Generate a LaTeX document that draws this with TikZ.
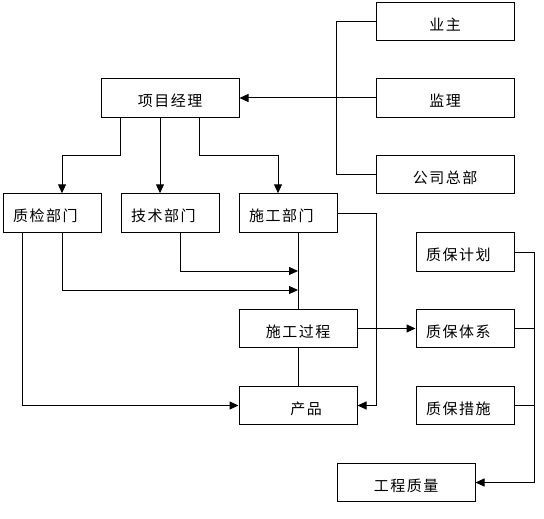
\documentclass[tikz,border=0pt]{standalone}
\usepackage{fontspec}
\newfontfamily\cjk[LetterSpace=10]{Noto Sans CJK SC}
\usetikzlibrary{
    arrows.meta,    % For Triangle arrow tips
    calc            % For coordinate calculations
}

\begin{document}
\begin{tikzpicture}[x=1pt, y=-1pt,
    box/.style={rectangle, draw, line width=1pt, inner sep=0pt, minimum height=38.5pt, font=\cjk\fontsize{15}{17}\selectfont, text height=1.75em, text depth=0em},
    widebox/.style={box, minimum width=138pt},
    midbox/.style={box, minimum width=118pt},
    leftbox/.style={box, inner xsep=10pt, text width=78pt, align=left},
    line/.style={line width=1pt},
    arrow/.style={line, -{Triangle[length=9pt, width=8pt]}}
]
    \useasboundingbox (0,0) rectangle (544,519);

    % Outside parties
    \node[widebox] (yezhu) at (445, 21.5) {业主};
    \node[widebox] (jianli) at (445, 98) {监理};
    \node[widebox] (gongsi) at (445, 174.5) {公司总部};

    % Project manager
    \node[widebox] (xiangmu) at (170, 98) {项目经理};

    % Departments
    \node[leftbox] (zhijian) at (52, 213) {质检部门};
    \node[leftbox] (jishu) at (170, 213) {技术部门};
    \node[leftbox] (shigong) at (288, 213) {施工部门};

    % Process and product
    \node[midbox] (guocheng) at (298, 328.5) {施工过程};
    \node[midbox] (chanpin) at (298, 405.5) {\hspace*{16pt}产品};

    % Quality assurance
    \node[leftbox] (jihua) at (465, 252) {质保计划};
    \node[leftbox] (tixi) at (465, 328.5) {质保体系};
    \node[leftbox] (cuoshi) at (465, 405.5) {质保措施};
    \node[widebox] (zhiliang) at (406, 482.5) {工程质量};

    % Outside parties to manager
    \draw[line] (yezhu.west) -- ++(-39,0) |- (gongsi.west);
    \draw[arrow] (jianli.west) -- (xiangmu.east);

    % Manager to departments
    \draw[arrow] ([xshift=20pt]xiangmu.south west) -- ++(0,38) -| ([xshift=10pt]zhijian.north);
    \draw[arrow] ([xshift=-10pt]xiangmu.south) -- ([xshift=-10pt]jishu.north);
    \draw[arrow] ([xshift=-40pt]xiangmu.south east) -- ++(0,38) -| ([xshift=-10pt]shigong.north);

    % Departments to process
    \coordinate (inA) at (298, 271);
    \coordinate (inB) at (298, 290);
    \draw[line] (shigong.south -| guocheng.north) -- (guocheng.north);
    \draw[arrow] ([xshift=10pt]jishu.south) |- (inA);
    \draw[arrow] ([xshift=10pt]zhijian.south) |- (inB);
    \draw[arrow] ([xshift=-30pt]zhijian.south) |- (chanpin.west);
    \draw[line] (guocheng.south) -- (chanpin.north);
    \draw[arrow] (shigong.east) -- ++(39,0) |- (chanpin.east);
    \draw[arrow] (guocheng.east) -- (tixi.west);

    % Quality assurance to quality
    \draw[arrow] (jihua.east) -- ++(20,0) |- (zhiliang.east);
    \draw[line] (tixi.east) -- ++(20,0);
    \draw[line] (cuoshi.east) -- ++(20,0);
\end{tikzpicture}
\end{document}
